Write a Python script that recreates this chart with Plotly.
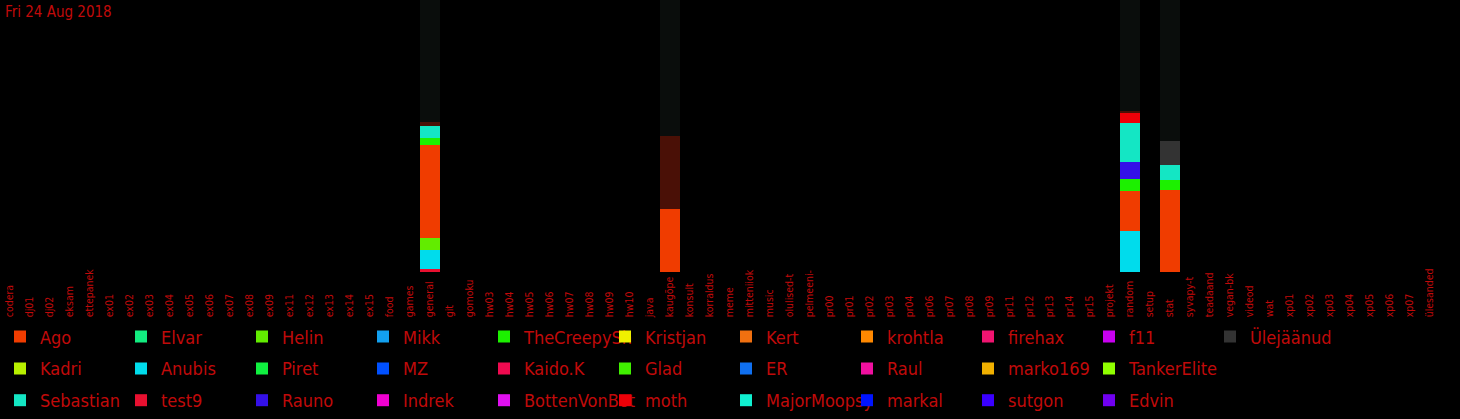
import plotly.graph_objects as go

# ---------------- data ----------------
channels = ["codera", "dj01", "dj02", "eksam", "ettepanek", "ex01", "ex02", "ex03", "ex04",
            "ex05", "ex06", "ex07", "ex08", "ex09", "ex11", "ex12", "ex13", "ex14", "ex15",
            "food", "games", "general", "git", "gomoku", "hw03", "hw04", "hw05", "hw06",
            "hw07", "hw08", "hw09", "hw10", "java", "kaugõpe", "konsult", "korraldus", "meme",
            "mitteniiok", "music", "olulised-t", "pelmeeni-", "pr00", "pr01", "pr02", "pr03",
            "pr04", "pr06", "pr07", "pr08", "pr09", "pr11", "pr12", "pr13", "pr14", "pr15",
            "projekt", "random", "setup", "stat", "syvapy-t", "teadaand", "vegan-bk", "videod",
            "wat", "xp01", "xp02", "xp03", "xp04", "xp05", "xp06", "xp07", "ülesanded"]

active = ["general", "kaugõpe", "random", "stat"]

# values per user for the active channels (same order as `active`)
v_test9      = [1.2, 0.0, 0.0, 0.0]
v_anubis     = [6.9, 0.0, 15.2, 0.0]
v_helin      = [4.6, 0.0, 0.0, 0.0]
v_ago        = [34.2, 23.4, 14.7, 30.3]
v_creepy     = [2.6, 0.0, 4.4, 3.6]
v_rauno      = [0.0, 0.0, 6.3, 0.0]
v_sebastian  = [4.4, 0.0, 14.3, 5.6]
v_moth       = [0.0, 0.0, 3.9, 0.0]
v_ulejaanud  = [0.0, 0.0, 0.0, 8.6]
v_faded      = [1.2, 26.8, 0.6, 0.0]
y_max = 100.0

# legend layout rows (as shown in the reference)
row1 = ["Ago", "Elvar", "Helin", "Mikk", "TheCreepySh", "Kristjan", "Kert", "krohtla",
        "firehax", "f11", "Ülejäänud"]
row2 = ["Kadri", "Anubis", "Piret", "MZ", "Kaido.K", "Glad", "ER", "Raul", "marko169",
        "TankerElite"]
row3 = ["Sebastian", "test9", "Rauno", "Indrek", "BottenVonBot", "moth", "MajorMoopsy",
        "markal", "sutgon", "Edvin"]

colors = {
    "Ago": "#f03c00", "Elvar": "#12ec80", "Helin": "#62ec00", "Mikk": "#12a0f0",
    "TheCreepySh": "#1cf000", "Kristjan": "#f0f000", "Kert": "#f07010", "krohtla": "#ff8800",
    "firehax": "#f01470", "f11": "#c800f0", "Ülejäänud": "#333333",
    "Kadri": "#b8f000", "Anubis": "#00dcec", "Piret": "#10f040", "MZ": "#0050ff",
    "Kaido.K": "#f00a50", "Glad": "#40f000", "ER": "#1070f0", "Raul": "#f010a0",
    "marko169": "#f0b000", "TankerElite": "#90ff00",
    "Sebastian": "#14e6c4", "test9": "#e81030", "Rauno": "#3410e8", "Indrek": "#f000d0",
    "BottenVonBot": "#e010f0", "moth": "#ee0008", "MajorMoopsy": "#10f0d0",
    "markal": "#0014ff", "sutgon": "#3a00ff", "Edvin": "#7000f0",
}

values = {
    "test9": v_test9, "Anubis": v_anubis, "Helin": v_helin, "Ago": v_ago,
    "TheCreepySh": v_creepy, "Rauno": v_rauno, "Sebastian": v_sebastian, "moth": v_moth,
    "Ülejäänud": v_ulejaanud,
}

# stacking order (bottom -> top)
stack_order = ["test9", "Anubis", "Helin", "Ago", "TheCreepySh", "Rauno", "Sebastian",
               "moth", "Ülejäänud"]

TEXT_RED = "#c00a0a"
FONT = "Liberation Sans Narrow, DejaVu Sans Condensed, Roboto Condensed, Arial Narrow, sans-serif"

fig = go.Figure()

legend_of = {}
rank_of = {}
last_in_row = set()
for li, row in enumerate([row1, row2, row3]):
    for ri, n in enumerate(row):
        legend_of[n] = "legend" if li == 0 else f"legend{li + 1}"
        rank_of[n] = ri + 1
    last_in_row.add(row[-1])

all_names = stack_order + [n for n in row1 + row2 + row3 if n not in stack_order]
for n in all_names:
    extra = dict(legendwidth=110) if n in last_in_row else {}
    fig.add_trace(go.Bar(
        x=active, y=values.get(n, [0.0] * len(active)), name=n,
        marker=dict(color=colors[n], line=dict(width=0)),
        legend=legend_of[n], legendrank=rank_of[n], **extra,
    ))

# faded (previous) segment and dark remainder up to the top
fig.add_trace(go.Bar(x=active, y=v_faded, marker=dict(color="#4a1006", line=dict(width=0)),
                     showlegend=False, name="varem"))
totals = [sum(values[n][i] for n in stack_order) + v_faded[i] for i in range(len(active))]
fig.add_trace(go.Bar(x=active, y=[y_max - t for t in totals],
                     marker=dict(color="#0a0d0c", line=dict(width=0)),
                     showlegend=False, name="rest"))

W, H = 1460, 419
plot_bottom = 326   # px from top: axis line (labels drawn above it)
bar_bottom = 274    # px from top where bars start
ph = plot_bottom

def ypap(px):
    return (ph - px) / ph

leg_common = dict(orientation="h", xanchor="left", yanchor="middle", x=0,
                  bgcolor="rgba(0,0,0,0)", entrywidth=76, entrywidthmode="pixels",
                  font=dict(family=FONT, size=18, color=TEXT_RED), traceorder="normal")

fig.update_layout(
    width=W, height=H,
    barmode="stack", bargap=0,
    paper_bgcolor="#000000", plot_bgcolor="#000000",
    margin=dict(l=0, r=20, t=0, b=H - plot_bottom),
    title=dict(text="Fri 24 Aug 2018", x=5 / W, xanchor="left", xref="container",
               y=1 - 12 / H, yanchor="middle", yref="container",
               font=dict(family=FONT, size=15, color=TEXT_RED)),
    xaxis=dict(type="category", categoryorder="array", categoryarray=channels,
               range=[-0.5, len(channels) - 0.5], anchor="free", position=0,
               tickangle=-90, ticklabelposition="inside", showgrid=False, zeroline=False,
               showline=False, ticks="",
               tickfont=dict(family=FONT, size=10.5, color=TEXT_RED)),
    yaxis=dict(range=[0, y_max], domain=[(ph - bar_bottom) / ph, 1], visible=False,
               showgrid=False),
    legend=dict(**leg_common, y=ypap(339)),
    legend2=dict(**leg_common, y=ypap(371)),
    legend3=dict(**leg_common, y=ypap(403)),
    showlegend=True,
)

fig.write_html("out.html", config={"displayModeBar": False},
               post_script="document.body.style.margin='0';document.body.style.background='#000';")
